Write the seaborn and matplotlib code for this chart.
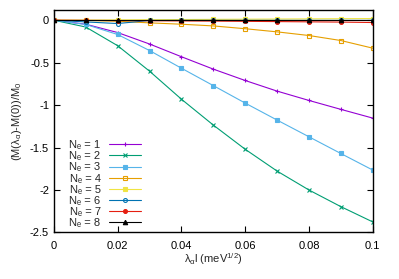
import numpy as np
import pandas as pd
import matplotlib
matplotlib.use("Agg")
import matplotlib.pyplot as plt
from matplotlib.ticker import FuncFormatter
import seaborn as sns

x_vals = [0.0, 0.01, 0.02, 0.03, 0.04, 0.05, 0.06, 0.07, 0.08, 0.09, 0.1]
ne1 = [0.0, -0.047, -0.145, -0.28, -0.43, -0.576, -0.71, -0.835, -0.945, -1.05, -1.153]
ne2 = [0.0, -0.08, -0.30, -0.60, -0.93, -1.235, -1.52, -1.777, -2.0, -2.196, -2.376]
ne3 = [0.0, -0.05, -0.168, -0.357, -0.565, -0.77, -0.976, -1.176, -1.373, -1.57, -1.765]
ne4 = [0.0, -0.003, -0.012, -0.031, -0.047, -0.067, -0.1, -0.137, -0.18, -0.239, -0.329]
ne5 = [0.0, 0.002, 0.004, 0.006, 0.008, 0.01, 0.012, 0.014, 0.016, 0.018, 0.02]
ne6 = [0.0, -0.02, -0.039, -0.003, -0.002, -0.002, -0.002, -0.002, -0.002, -0.002, -0.002]
ne7 = [0.0, -0.002, -0.004, -0.006, -0.008, -0.01, -0.013, -0.016, -0.019, -0.022, -0.027]
ne8 = [0.0, 0.0, 0.0, 0.0, 0.0, 0.0, 0.0, 0.0, 0.0, 0.0, 0.0]
series_values = [ne1, ne2, ne3, ne4, ne5, ne6, ne7, ne8]
series_labels = ["N\u2091 = %d" % i for i in range(1, 9)]
x_ticks = [0, 0.02, 0.04, 0.06, 0.08, 0.1]
y_ticks = [-2.5, -2, -1.5, -1, -0.5, 0]

colors = ["#9400d3", "#009e73", "#56b4e9", "#e69f00", "#f0e442", "#0072b2", "#e51e10", "#000000"]
markers = ["+", "x", "s", "s", "s", "o", "o", "^"]
fills = [True, True, True, False, True, False, True, True]

sns.set_style("ticks")
plt.rcParams["font.family"] = ["Liberation Sans", "DejaVu Sans"]
plt.rcParams["axes.unicode_minus"] = False
plt.rcParams["mathtext.fontset"] = "custom"
plt.rcParams["mathtext.rm"] = "Liberation Sans"
plt.rcParams["mathtext.it"] = "Liberation Sans"

fig, ax = plt.subplots(figsize=(3.99, 2.79), dpi=100)
fig.subplots_adjust(left=0.135, right=0.934, top=0.964, bottom=0.167)

for vals, lab, c, m, f in zip(series_values, series_labels, colors, markers, fills):
    df = pd.DataFrame({"x": x_vals, "y": vals})
    kw = dict(markerfacecolor=c if f else "none", markeredgecolor=c)
    sns.lineplot(data=df, x="x", y="y", ax=ax, color=c, marker=m,
                 markersize=3.2 if m not in ("s", "o") else 2.8,
                 linewidth=0.8, label=lab, markeredgewidth=0.8, **kw)

ax.set_xlim(0, 0.1)
ax.set_ylim(-2.5, 0.12)
ax.set_xticks(x_ticks)
ax.set_yticks(y_ticks)
fmt = FuncFormatter(lambda v, p: "%g" % v)
ax.xaxis.set_major_formatter(fmt)
ax.yaxis.set_major_formatter(fmt)
ax.tick_params(direction="in", top=True, right=True, length=4, width=0.8, labelsize=8, colors="black")
ax.tick_params(axis="x", pad=6)
for s in ax.spines.values():
    s.set_color("black")
    s.set_linewidth(1.0)
ax.set_xlabel(r"$\lambda_\alpha$l (meV$^{1/2}$)", fontsize=8, labelpad=0)
ax.set_ylabel(r"(M($\lambda_\alpha$)-M(0))/M$_0$", fontsize=8, labelpad=4)

leg = ax.legend(loc="lower left", bbox_to_anchor=(0.035, 0.0), frameon=False, markerfirst=False,
                fontsize=8, handlelength=2.8, labelspacing=0.1, handletextpad=0.8,
                borderaxespad=0.0)

fig.savefig("out.png", dpi=100)
